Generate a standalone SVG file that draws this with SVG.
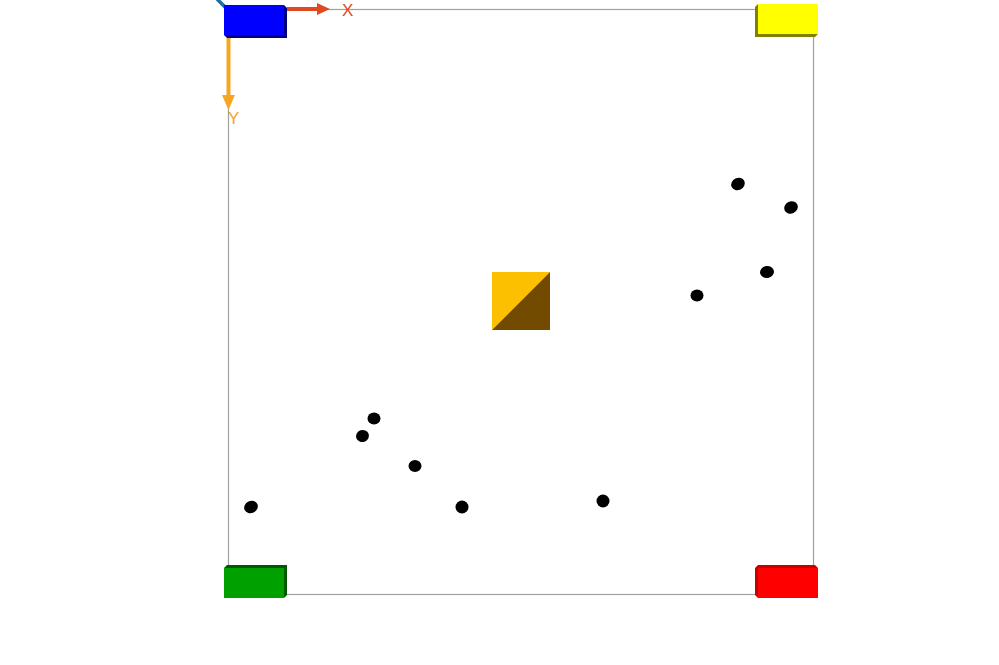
<svg xmlns="http://www.w3.org/2000/svg" width="999" height="665" viewBox="0 0 999 665">
<defs>
<style>
.frame{fill:none;stroke:#a0a0a0;stroke-width:1.2}
.dot{fill:#000}
.lbl{font-family:"Liberation Sans",Arial,sans-serif;font-size:17px}
</style>
</defs>
<rect width="999" height="665" fill="#fff"/>
<rect class="frame" x="228.5" y="9.5" width="585" height="585"/>
<g id="axes">
<line x1="217" y1="-1" x2="226" y2="8" stroke="#1f6ea0" stroke-width="3.5"/>
<path d="M287,9 H318" stroke="#e04a22" stroke-width="4"/>
<path d="M317,3 L330,9 L317,15 Z" fill="#e04a22"/>
<text x="342" y="16" class="lbl" fill="#e04a22">X</text>
<path d="M228.5,38 V97" stroke="#f5a623" stroke-width="4"/>
<path d="M222,95 L228.5,110 L235,95 Z" fill="#f5a623"/>
<text x="228" y="124" class="lbl" fill="#f5a623">Y</text>
</g>
<g id="box-blue">
<path d="M224,5 H284 L287,8 V38 H227 L224,35 Z" fill="#000080"/>
<rect x="224" y="5" width="60" height="30" fill="#0000ff"/>
</g>
<g id="box-yellow">
<path d="M818,4 H758 L755,7 V37 H815 L818,34 Z" fill="#808000"/>
<rect x="758" y="4" width="60" height="30" fill="#ffff00"/>
</g>
<g id="box-green">
<path d="M224,568 L227,565 H287 V595 L284,598 H224 Z" fill="#005800"/>
<rect x="224" y="568" width="60" height="30" fill="#00a000"/>
</g>
<g id="box-red">
<path d="M818,568 L815,565 H758 L755,568 V595 L758,598 H818 Z" fill="#c80000"/>
<rect x="758" y="568" width="60" height="30" fill="#ff0000"/>
</g>
<g id="center">
<path d="M492,272 H550 L492,330 Z" fill="#fdc000"/>
<path d="M550,272 V330 H492 Z" fill="#724b00"/>
</g>
<g id="dots">
<ellipse class="dot" cx="738" cy="184" rx="7" ry="6" transform="rotate(-25 738 184)"/>
<ellipse class="dot" cx="791" cy="207.5" rx="7" ry="6" transform="rotate(-25 791 207.5)"/>
<ellipse class="dot" cx="767" cy="272" rx="7" ry="6" transform="rotate(-10 767 272)"/>
<ellipse class="dot" cx="697" cy="295.5" rx="6.5" ry="6"/>
<ellipse class="dot" cx="374" cy="418.5" rx="6.5" ry="6"/>
<ellipse class="dot" cx="362.5" cy="436" rx="6.5" ry="6" transform="rotate(-20 362.5 436)"/>
<ellipse class="dot" cx="415" cy="466" rx="6.5" ry="6"/>
<ellipse class="dot" cx="251" cy="507" rx="7" ry="6" transform="rotate(-25 251 507)"/>
<ellipse class="dot" cx="462" cy="507" rx="6.5" ry="6.5"/>
<ellipse class="dot" cx="603" cy="501" rx="6.5" ry="6.5"/>
</g>
</svg>
